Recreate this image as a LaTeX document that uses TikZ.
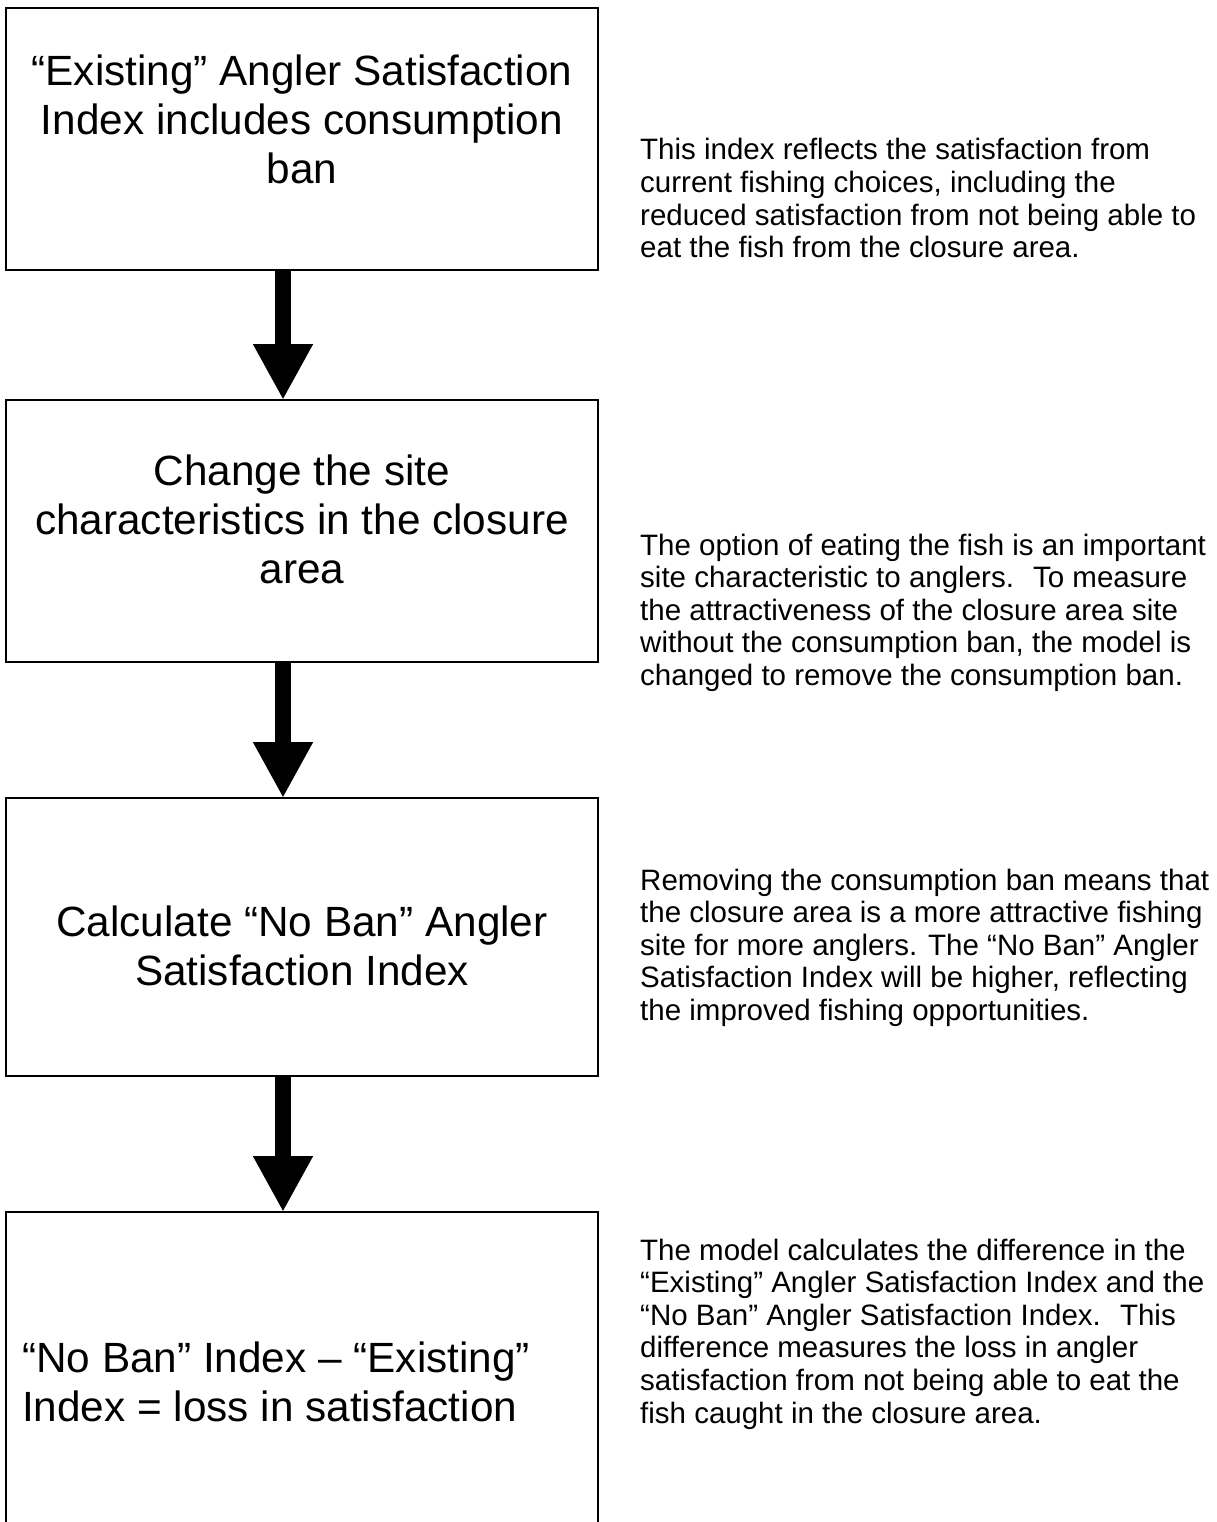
\documentclass[tikz,border=0pt]{standalone}
\usepackage{fontspec}
\setmainfont{Liberation Sans}
\usetikzlibrary{arrows.meta}
\begin{document}
\begin{tikzpicture}[x=1pt,y=-1pt,
  flowbox/.style={draw=black, line width=2pt, minimum width=592pt, inner sep=0pt, outer sep=0pt, anchor=north west},
  boxtext/.style={font=\fontsize{42.3}{49}\selectfont, align=center, inner sep=0pt, anchor=base},
  boxtextl/.style={font=\fontsize{42.3}{49}\selectfont, align=left, inner sep=0pt, anchor=base west},
  sidetext/.style={font=\fontsize{29.5}{32.6}\selectfont, align=left, inner sep=0pt, anchor=base west},
  bigarrow/.style={line width=16pt, -{Triangle[length=56pt,width=56pt]}}]
\fill[white] (0,0) rectangle (1216,1522);
\clip (0,0) rectangle (1216,1522);
% boxes
\node[flowbox, minimum height=262pt] (b1) at (6,8) {};
\node[flowbox, minimum height=262pt] (b2) at (6,400) {};
\node[flowbox, minimum height=278pt] (b3) at (6,798) {};
\node[flowbox, minimum height=330pt] (b4) at (6,1212) {};
% arrows
\draw[bigarrow] ([xshift=-19pt]b1.south) -- ([xshift=-19pt]b2.north);
\draw[bigarrow] ([xshift=-19pt]b2.south) -- ([xshift=-19pt]b3.north);
\draw[bigarrow] ([xshift=-19pt]b3.south) -- ([xshift=-19pt]b4.north);
% box texts (anchor = baseline of last line)
\node[boxtext] (t1) at (302,184) {“Existing” Angler Satisfaction\\Index includes consumption\\ban};
\node[boxtext] (t2) at (302,583) {Change the site\\characteristics in the closure\\area};
\node[boxtext] (t3) at (302,985) {Calculate “No Ban” Angler\\Satisfaction Index};
\node[boxtextl] (t4) at (22,1421) {“No Ban” Index – “Existing”\\Index = loss in satisfaction};
% side texts (anchor = baseline of last line)
\node[sidetext] (s1) at (640,257.8) {This index reflects the satisfaction from\\current fishing choices, including the\\reduced satisfaction from not being able to\\eat the fish from the closure area.};
\node[sidetext] (s2) at (640,685.4) {The option of eating the fish is an important\\site characteristic to anglers.~ To measure\\the attractiveness of the closure area site\\without the consumption ban, the model is\\changed to remove the consumption ban.};
\node[sidetext] (s3) at (640,1020.4) {Removing the consumption ban means that\\the closure area is a more attractive fishing\\site for more anglers. The “No Ban” Angler\\Satisfaction Index will be higher, reflecting\\the improved fishing opportunities.};
\node[sidetext] (s4) at (640,1423) {The model calculates the difference in the\\“Existing” Angler Satisfaction Index and the\\“No Ban” Angler Satisfaction Index.~ This\\difference measures the loss in angler\\satisfaction from not being able to eat the\\fish caught in the closure area.};
\end{tikzpicture}
\end{document}
